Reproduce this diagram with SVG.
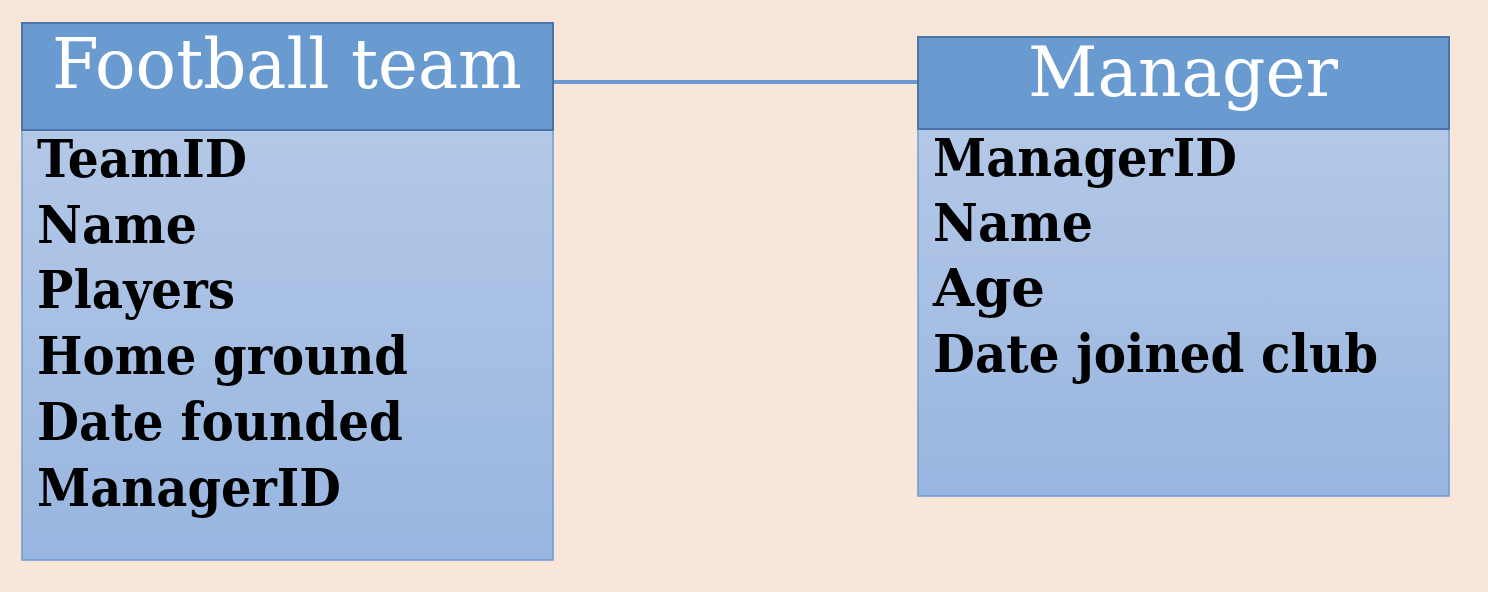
<svg xmlns="http://www.w3.org/2000/svg" width="1488" height="592" viewBox="0 0 1488 592">
<defs>
<linearGradient id="bodyGrad" x1="0" y1="0" x2="0" y2="1">
<stop offset="0" stop-color="#B4C8E7"/>
<stop offset="1" stop-color="#98B6E0"/>
</linearGradient>
<style>
.head{fill:#6A9BD0;stroke:#4C74A9;stroke-width:2}
.body{fill:url(#bodyGrad);stroke:#6E9CD4;stroke-width:1.5}
.title{font-family:"DejaVu Serif","Liberation Serif",serif;font-size:70px;fill:#FFFFFF}
.attr{font-family:"DejaVu Serif","Liberation Serif",serif;font-weight:bold;font-size:53px;fill:#000000}
.conn{stroke:#6A9BD0;stroke-width:4;fill:none}
</style>
</defs>
<rect width="1488" height="592" fill="#F8E6D9"/>
<g id="connectors">
<line class="conn" x1="553" y1="82" x2="918" y2="82"/>
</g>
<g id="football-team">
<rect class="body" x="22" y="130" width="531" height="430"/>
<rect class="head" x="22" y="23" width="531" height="107"/>
<text class="title" x="52" y="88" textLength="470" lengthAdjust="spacingAndGlyphs">Football team</text>
<text class="attr" x="37" y="177" textLength="210" lengthAdjust="spacingAndGlyphs">TeamID</text>
<text class="attr" x="37" y="243" textLength="160" lengthAdjust="spacingAndGlyphs">Name</text>
<text class="attr" x="37" y="308" textLength="198" lengthAdjust="spacingAndGlyphs">Players</text>
<text class="attr" x="37" y="374" textLength="371" lengthAdjust="spacingAndGlyphs">Home ground</text>
<text class="attr" x="37" y="440" textLength="366" lengthAdjust="spacingAndGlyphs">Date founded</text>
<text class="attr" x="37" y="506" textLength="304" lengthAdjust="spacingAndGlyphs">ManagerID</text>
</g>
<g id="manager">
<rect class="body" x="918" y="129" width="531" height="367"/>
<rect class="head" x="918" y="37" width="531" height="92"/>
<text class="title" x="1028" y="96" textLength="310" lengthAdjust="spacingAndGlyphs">Manager</text>
<text class="attr" x="933" y="176" textLength="304" lengthAdjust="spacingAndGlyphs">ManagerID</text>
<text class="attr" x="933" y="241" textLength="160" lengthAdjust="spacingAndGlyphs">Name</text>
<text class="attr" x="933" y="306" textLength="112" lengthAdjust="spacingAndGlyphs">Age</text>
<text class="attr" x="933" y="372" textLength="445" lengthAdjust="spacingAndGlyphs">Date joined club</text>
</g>
</svg>
